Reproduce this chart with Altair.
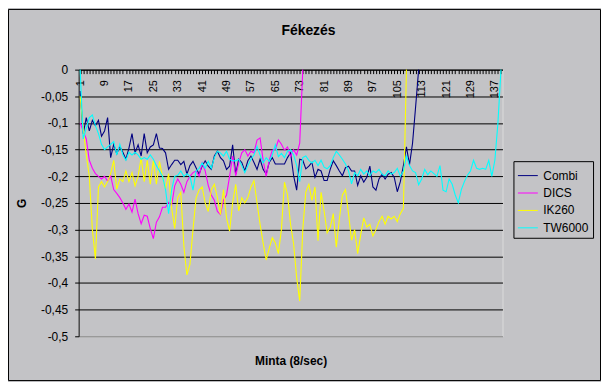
import altair as alt
import pandas as pd

chart_title = "Fékezés"
x_title = "Minta (8/sec)"
y_title = "G"

categories = list(range(1, 140))
x_label_step = 8
y_ticks = [0, -0.05, -0.1, -0.15, -0.2, -0.25, -0.3, -0.35, -0.4, -0.45, -0.5]

series_names = ["Combi", "DICS", "IK260", "TW6000"]
series_colors = ["#000080", "#FF00FF", "#FFFF00", "#00FFFF"]

combi = [
    -0.04, -0.12, -0.09, -0.115, -0.095, -0.105, -0.095, -0.125, -0.115, -0.09,
    -0.165, -0.14, -0.158, -0.144, -0.155, -0.168, -0.147, -0.12, -0.156, -0.141,
    -0.162, -0.12, -0.156, -0.145, -0.141, -0.12, -0.147, -0.148, -0.156, -0.187,
    -0.178, -0.17, -0.17, -0.178, -0.172, -0.196, -0.18, -0.172, -0.184, -0.196,
    -0.181, -0.171, -0.181, -0.187, -0.162, -0.153, -0.165, -0.171, -0.187, -0.181,
    -0.141, -0.196, -0.168, -0.174, -0.19, -0.171, -0.162, -0.174, -0.187, -0.168,
    -0.187, -0.196, -0.174, -0.165, -0.177, -0.177, -0.177, -0.177, -0.165, -0.156,
    -0.199, -0.226, -0.168, -0.17, -0.186, -0.181, -0.174, -0.202, -0.187, -0.19,
    -0.208, -0.208, -0.187, -0.171, -0.18, -0.19, -0.199, -0.184, -0.181, -0.19,
    -0.19, -0.217, -0.199, -0.211, -0.202, -0.181, -0.22, -0.226, -0.205, -0.196,
    -0.205, -0.196, -0.193, -0.202, -0.229, -0.21, -0.18, -0.145, -0.178, -0.138,
    -0.07, 0.0,
]

dics = [
    -0.1, -0.115, -0.13, -0.17, -0.185, -0.195, -0.2, -0.205, -0.2, -0.209,
    -0.199, -0.225, -0.232, -0.24, -0.25, -0.262, -0.252, -0.267, -0.243, -0.27,
    -0.289, -0.273, -0.275, -0.298, -0.317, -0.286, -0.276, -0.258, -0.258, -0.249,
    -0.255, -0.218, -0.205, -0.215, -0.23, -0.21, -0.2, -0.193, -0.19, -0.2,
    -0.175, -0.19, -0.217, -0.235, -0.245, -0.266, -0.272, -0.245, -0.235, -0.2,
    -0.162, -0.199, -0.175, -0.156, -0.15, -0.162, -0.153, -0.156, -0.132, -0.128,
    -0.17, -0.2, -0.17, -0.151, -0.15, -0.132, -0.14, -0.151, -0.145, -0.163,
    -0.15, -0.16, -0.138, 0.0,
]

ik260 = [
    -0.05, -0.11, -0.16, -0.2, -0.3, -0.355, -0.22, -0.21, -0.22, -0.21,
    -0.195, -0.17, -0.224, -0.205, -0.21, -0.19, -0.21, -0.193, -0.218, -0.2,
    -0.165, -0.21, -0.17, -0.215, -0.17, -0.215, -0.172, -0.2, -0.224, -0.195,
    -0.26, -0.298, -0.24, -0.23, -0.33, -0.385, -0.365, -0.3, -0.241, -0.226,
    -0.22, -0.25, -0.266, -0.225, -0.215, -0.24, -0.272, -0.225, -0.278, -0.303,
    -0.25, -0.215, -0.265, -0.24, -0.25, -0.24, -0.22, -0.208, -0.25, -0.29,
    -0.325, -0.357, -0.335, -0.315, -0.325, -0.345, -0.3, -0.211, -0.235, -0.29,
    -0.327, -0.39, -0.434, -0.3, -0.229, -0.215, -0.245, -0.22, -0.321, -0.23,
    -0.265, -0.306, -0.296, -0.27, -0.333, -0.28, -0.235, -0.225, -0.27, -0.32,
    -0.3, -0.345, -0.31, -0.278, -0.295, -0.29, -0.312, -0.3, -0.285, -0.275,
    -0.29, -0.275, -0.28, -0.275, -0.285, -0.27, -0.26, 0.0,
]

tw6000 = [
    0.0, -0.13, -0.11, -0.09, -0.085, -0.105, -0.12, -0.14, -0.15, -0.145,
    -0.14, -0.135, -0.16, -0.14, -0.16, -0.17, -0.155, -0.16, -0.155, -0.16,
    -0.168, -0.165, -0.168, -0.16, -0.168, -0.18, -0.19, -0.2, -0.225, -0.27,
    -0.225, -0.2, -0.198, -0.19, -0.2, -0.195, -0.2, -0.226, -0.19, -0.185,
    -0.175, -0.185, -0.172, -0.185, -0.165, -0.153, -0.156, -0.162, -0.153, -0.168,
    -0.171, -0.171, -0.168, -0.18, -0.193, -0.18, -0.168, -0.16, -0.144, -0.16,
    -0.175, -0.165, -0.172, -0.16, -0.141, -0.163, -0.157, -0.165, -0.153, -0.15,
    -0.16, -0.18, -0.21, -0.165, -0.162, -0.17, -0.175, -0.17, -0.18, -0.17,
    -0.183, -0.186, -0.18, -0.165, -0.153, -0.16, -0.168, -0.177, -0.19, -0.214,
    -0.193, -0.199, -0.187, -0.196, -0.19, -0.199, -0.19, -0.193, -0.187, -0.196,
    -0.199, -0.19, -0.196, -0.193, -0.185, -0.2, -0.19, -0.162, -0.18, -0.19,
    -0.193, -0.216, -0.205, -0.187, -0.197, -0.19, -0.195, -0.2, -0.18, -0.226,
    -0.229, -0.205, -0.215, -0.235, -0.25, -0.225, -0.21, -0.198, -0.19, -0.17,
    -0.185, -0.187, -0.185, -0.187, -0.17, -0.2, -0.17, -0.1, 0.0,
]

rows = []
for name, vals in zip(series_names, [combi, dics, ik260, tw6000]):
    for c, v in zip(categories, vals):
        rows.append({"Minta": c, "G": v, "Series": name})
df = pd.DataFrame(rows)

FONT = "Liberation Sans"
BG = "#c3c3c6"
W, H = 426, 268
PL, PT, PR, PB = 71, 61, 99, 45

lines = alt.Chart(df).mark_line(strokeWidth=1.1).encode(
    x=alt.X(
        "Minta:Q",
        scale=alt.Scale(domain=[0.5, 139.5], nice=False, zero=False),
        axis=alt.Axis(
            orient="bottom", offset=-H, values=categories,
            tickSize=4, tickColor="black", domainColor="black",
            labelExpr=f"(datum.value - 1) % {x_label_step} == 0 ? datum.value + '' : ''",
            labelAngle=270, labelAlign="right", labelBaseline="middle",
            labelPadding=6, labelFontSize=11, labelFont=FONT, labelColor="black",
            labelOverlap=False, labelFlush=False, grid=False,
            title=x_title, titleX=W / 2, titleY=H + 24, titleBaseline="middle",
            titleFontSize=12, titleFontWeight="bold", titleFont=FONT, titleColor="black",
        ),
    ),
    y=alt.Y(
        "G:Q",
        scale=alt.Scale(domain=[-0.5, 0], nice=False),
        axis=alt.Axis(
            values=y_ticks,
            labelExpr="replace(datum.value + '', '.', ',')",
            tickSize=4, tickColor="black", domainColor="black",
            labelPadding=7, labelFontSize=12, labelFont=FONT, labelColor="black",
            grid=True, gridOpacity=1, gridWidth=1,
            gridColor={"condition": {"test": "datum.value <= -0.5", "value": "#808080"}, "value": "black"},
            title=y_title, titleAngle=270, titleX=-57, titleY=H / 2,
            titleAlign="center", titleBaseline="middle",
            titleFontSize=12, titleFontWeight="bold", titleFont=FONT, titleColor="black",
        ),
    ),
    color=alt.Color(
        "Series:N",
        scale=alt.Scale(domain=series_names, range=series_colors),
        legend=alt.Legend(
            orient="none", legendX=437, legendY=92, title=None,
            symbolType="stroke", symbolSize=400, symbolStrokeWidth=1,
            strokeColor="black", fillColor=BG, padding=4, rowPadding=0.5,
            labelFontSize=12, labelFont=FONT, labelColor="black", labelOffset=5,
        ),
    ),
)

frame = alt.Chart(pd.DataFrame({"k": [0]})).mark_rect(
    filled=False, stroke="black", strokeWidth=1
).encode(
    x=alt.value(-PL + 0.5), x2=alt.value(W + PR - 0.5),
    y=alt.value(-PT + 0.5), y2=alt.value(H + PB - 0.5),
)

title = alt.Chart(pd.DataFrame({"t": [chart_title]})).mark_text(
    font=FONT, fontSize=14, fontWeight="bold", color="black",
    align="center", baseline="middle",
).encode(text="t:N", x=alt.value(231), y=alt.value(-39))

chart = alt.layer(frame, lines, title).properties(
    width=W, height=H, background=BG,
    padding={"left": PL, "top": PT, "right": PR, "bottom": PB},
    autosize=alt.AutoSizeParams(type="none"),
).configure_view(stroke="#808080", strokeWidth=1, fill=BG).configure(font=FONT)

chart.save("out.html", embed_options={"renderer": "svg", "actions": False})
